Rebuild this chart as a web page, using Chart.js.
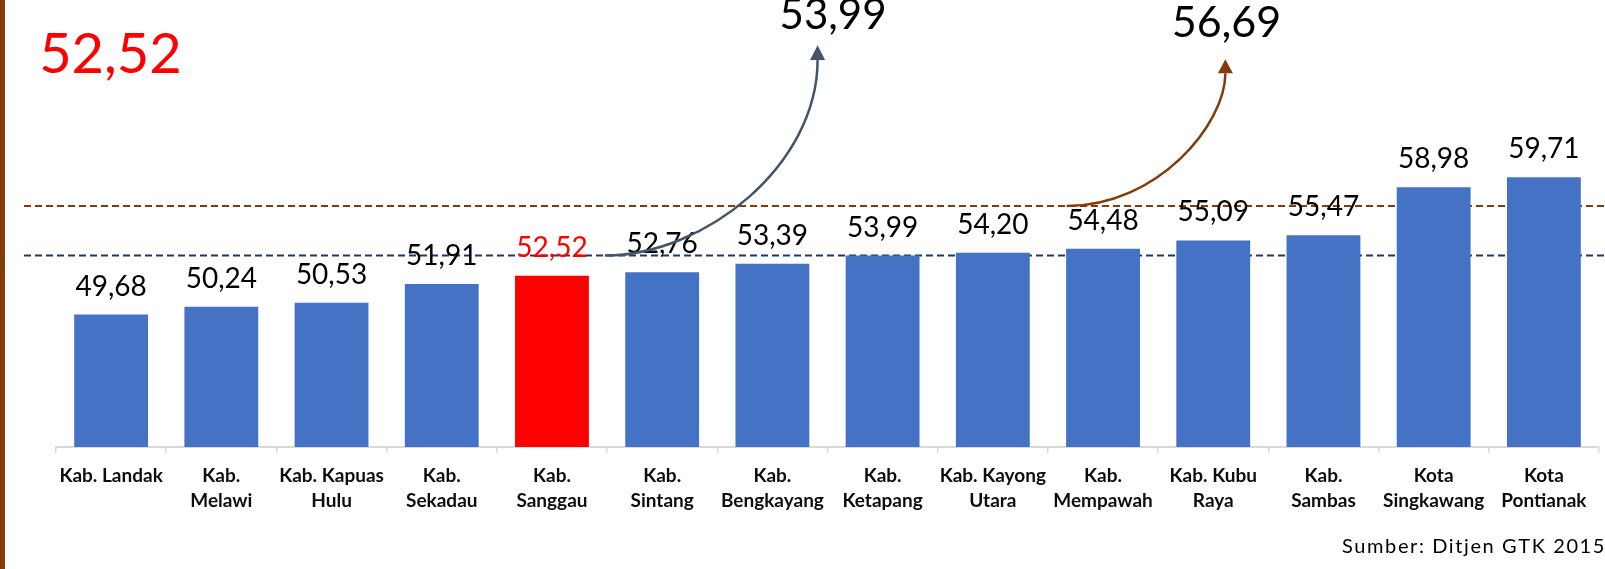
<!DOCTYPE html>
<html>
<head>
<meta charset="utf-8">
<script src="https://cdn.jsdelivr.net/npm/chart.js@4"></script>
<style>
  html, body { margin: 0; padding: 0; background: #fff; }
  #wrap { position: absolute; left: 0; top: 0; width: 1605px; height: 569px; }
  #garisKiri { position: absolute; left: 0; top: 0; width: 5px; height: 569px; background: #843C0C; }
</style>
</head>
<body>
<div id="wrap">
  <canvas id="grafik" width="1605" height="569"></canvas>
  <div id="garisKiri"></div>
</div>
<script>
// data nilai UKG per kabupaten/kota
var kategori = [
    ['Kab. Landak'], ['Kab.', 'Melawi'], ['Kab. Kapuas', 'Hulu'], ['Kab.', 'Sekadau'],
    ['Kab.', 'Sanggau'], ['Kab.', 'Sintang'], ['Kab.', 'Bengkayang'], ['Kab.', 'Ketapang'],
    ['Kab. Kayong', 'Utara'], ['Kab.', 'Mempawah'], ['Kab. Kubu', 'Raya'], ['Kab.', 'Sambas'],
    ['Kota', 'Singkawang'], ['Kota', 'Pontianak']
];
var nilai = [49.68, 50.24, 50.53, 51.91, 52.52, 52.76, 53.39, 53.99, 54.20, 54.48, 55.09, 55.47, 58.98, 59.71];
var indexSanggau = 4;

// garis rata-rata (nasional biru, provinsi coklat) - posisi seperti di gambar
var garisNilai = [53.99, 57.6];
var garisWarna = ['#1F3864', '#843C0C'];
var labelAtas = ['53,99', '56,69'];

var warnaBar = nilai.map(function (v, i) { return i === indexSanggau ? '#FF0000' : '#4472C4'; });

function formatKoma(v) {
    return v.toFixed(2).replace('.', ',');
}

const pluginAnotasi = {
    id: 'anotasi',
    beforeDatasetsDraw(chart) {
        const ctx = chart.ctx;
        const y = chart.scales.y;
        ctx.save();
        ctx.lineWidth = 2;
        ctx.setLineDash([7, 4]);
        for (let i = 0; i < garisNilai.length; i++) {
            const py = y.getPixelForValue(garisNilai[i]);
            ctx.strokeStyle = garisWarna[i];
            ctx.beginPath();
            ctx.moveTo(chart.chartArea.left - 32, py);
            ctx.lineTo(chart.width, py);
            ctx.stroke();
        }
        ctx.restore();
    },
    afterDatasetsDraw(chart) {
        const ctx = chart.ctx;
        const x = chart.scales.x;
        const y = chart.scales.y;
        const meta = chart.getDatasetMeta(0);

        // label nilai di atas bar
        ctx.save();
        ctx.font = '28px Lato';
        ctx.textAlign = 'center';
        ctx.textBaseline = 'alphabetic';
        meta.data.forEach(function (bar, i) {
            ctx.fillStyle = i === indexSanggau ? '#FF0000' : '#000000';
            ctx.fillText(formatKoma(nilai[i]), bar.x, bar.y - 19);
        });
        ctx.restore();

        // panah melengkung
        function px(i) { return x.getPixelForValue(i); }
        function py(v) { return y.getPixelForValue(v); }
        function panah(titik, ujung, warna) {
            ctx.save();
            ctx.strokeStyle = warna;
            ctx.fillStyle = warna;
            ctx.lineWidth = 2.5;
            ctx.beginPath();
            ctx.moveTo(px(titik[0][0]), py(titik[0][1]));
            ctx.bezierCurveTo(px(titik[1][0]), py(titik[1][1]), px(titik[2][0]), py(titik[2][1]), px(titik[3][0]), py(titik[3][1]));
            ctx.stroke();
            const bx = px(titik[3][0]), by = py(titik[3][1]);
            ctx.beginPath();
            ctx.moveTo(px(ujung[0]), py(ujung[1]));
            ctx.lineTo(bx - 7.5, by);
            ctx.lineTo(bx + 7.5, by);
            ctx.closePath();
            ctx.fill();
            ctx.restore();
        }
        panah([[4.48, 53.99], [5.39, 53.99], [6.41, 60.6], [6.41, 68.27]], [6.41, 69.36], '#44546A');
        panah([[8.67, 57.6], [9.5, 57.6], [10.11, 63.6], [10.11, 67.3]], [10.11, 68.32], '#843C0C');

        // angka besar
        ctx.save();
        ctx.fillStyle = '#000000';
        ctx.textAlign = 'center';
        ctx.font = '42px Lato';
        ctx.fillText(labelAtas[0], px(6.55), py(70.53));
        ctx.font = '43px Lato';
        ctx.fillText(labelAtas[1], px(10.12), py(69.95));
        ctx.fillStyle = '#FF0000';
        ctx.textAlign = 'left';
        ctx.font = '56px Lato';
        ctx.fillText(formatKoma(nilai[indexSanggau]), px(-0.653), py(67.32));

        // sumber
        ctx.fillStyle = '#000000';
        ctx.textAlign = 'right';
        ctx.font = '20px Lato';
        ctx.letterSpacing = '1.6px';
        ctx.fillText('Sumber: Ditjen GTK 2015', chart.width + 1, 553);
        ctx.restore();
    }
};

const grafik = document.getElementById('grafik');

const dataGrafik = {
    labels: kategori,
    datasets: [{
        label: 'Nilai UKG',
        data: nilai,
        backgroundColor: warnaBar,
        barPercentage: 0.67,
        categoryPercentage: 1
    }]
};

const configGrafik = {
    type: 'bar',
    data: dataGrafik,
    options: {
        responsive: false,
        animation: false,
        layout: {
            padding: { left: 56, right: 6, top: 9, bottom: 0 }
        },
        plugins: {
            legend: { display: false },
            tooltip: { enabled: false }
        },
        scales: {
            x: {
                grid: {
                    display: true,
                    drawOnChartArea: false,
                    drawTicks: true,
                    tickLength: 6,
                    color: '#D9D9D9',
                    lineWidth: 1.5
                },
                border: { display: true, color: '#D9D9D9', width: 2 },
                ticks: {
                    color: '#0D0D0D',
                    font: { family: 'Lato', size: 19, weight: 'bold', lineHeight: 1.3 },
                    padding: 11,
                    maxRotation: 0,
                    autoSkip: false
                },
                afterFit: function (scale) { scale.height = 122; }
            },
            y: {
                display: false,
                min: 40,
                max: 72
            }
        }
    },
    plugins: [pluginAnotasi]
};

new Chart(grafik, configGrafik);
</script>
</body>
</html>
